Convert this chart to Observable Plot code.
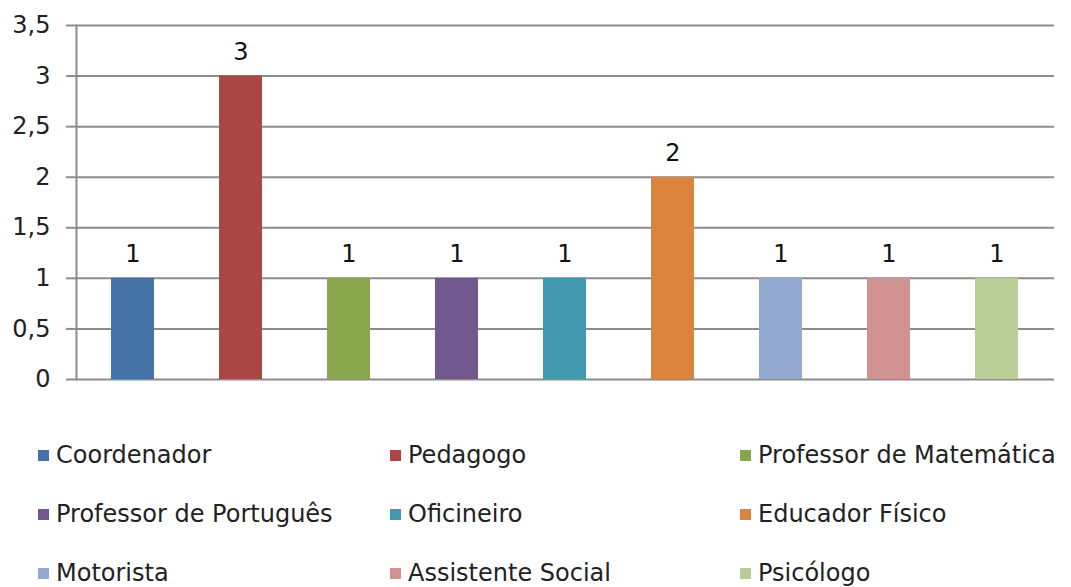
<!DOCTYPE html>
<html><head><meta charset="utf-8">
<script src="https://cdn.jsdelivr.net/npm/d3@7"></script>
<script src="https://cdn.jsdelivr.net/npm/@observablehq/plot@0.6"></script>
<style>
html,body{margin:0;padding:0;background:#fff;}
#wrap{position:relative;width:1071px;height:587px;overflow:hidden;font-family:"DejaVu Sans",sans-serif;}
#legend{position:absolute;left:38px;top:436px;display:grid;grid-template-columns:352px 350px 330px;grid-auto-rows:59px;}
.item{display:flex;align-items:center;height:38px;font-size:24px;color:#222;white-space:nowrap;}
.sw{width:11px;height:11px;margin-right:7px;flex:none;}
</style></head>
<body><div id="wrap"><div id="chart"></div><div id="legend"></div></div>
<script>
const categories = ["Coordenador","Pedagogo","Professor de Matemática","Professor de Português","Oficineiro","Educador Físico","Motorista","Assistente Social","Psicólogo"];
const values = [1,3,1,1,1,2,1,1,1];
const colors = ["#4572A7","#AA4643","#89A54E","#71588F","#4198AF","#DB843D","#93A9CF","#D19392","#B9CD96"];
const yTicks = [0,0.5,1,1.5,2,2.5,3,3.5];

const data = categories.map((c,i)=>({cat:c, value:values[i]}));
const fmt = d => String(d).replace(".", ",");

const chart = Plot.plot({
  width:1071, height:400,
  marginTop:25, marginBottom:21, marginLeft:76, marginRight:17,
  style:{fontFamily:"DejaVu Sans, sans-serif", fontSize:"24px", color:"#222", background:"#fff"},
  x:{domain:categories, paddingInner:0.6, paddingOuter:0.3, axis:null},
  y:{domain:[0,3.5], ticks:yTicks, tickFormat:fmt},
  color:{domain:categories, range:colors},
  marks:[
    Plot.gridY(yTicks, {stroke:"#8c8c8c", strokeWidth:2, strokeOpacity:1}),
    Plot.axisY(yTicks, {tickFormat:fmt, tickSize:10, tickPadding:16, stroke:"#8c8c8c", strokeWidth:2, strokeOpacity:1, label:null, fontSize:24, fill:"#222"}),
    Plot.frame({anchor:"left", stroke:"#8c8c8c", strokeWidth:2}),
    Plot.barY(data, {x:"cat", y:"value", fill:"cat"}),
    Plot.text(data, {x:"cat", y:"value", text:d=>fmt(d.value), dy:-24, fill:"#111", fontSize:24})
  ]
});
document.getElementById("chart").appendChild(chart);

const legend = document.getElementById("legend");
categories.forEach((c,i)=>{
  const it=document.createElement("div"); it.className="item";
  const sw=document.createElement("span"); sw.className="sw"; sw.style.background=colors[i];
  const t=document.createElement("span"); t.textContent=c;
  it.appendChild(sw); it.appendChild(t); legend.appendChild(it);
});
</script></body></html>
